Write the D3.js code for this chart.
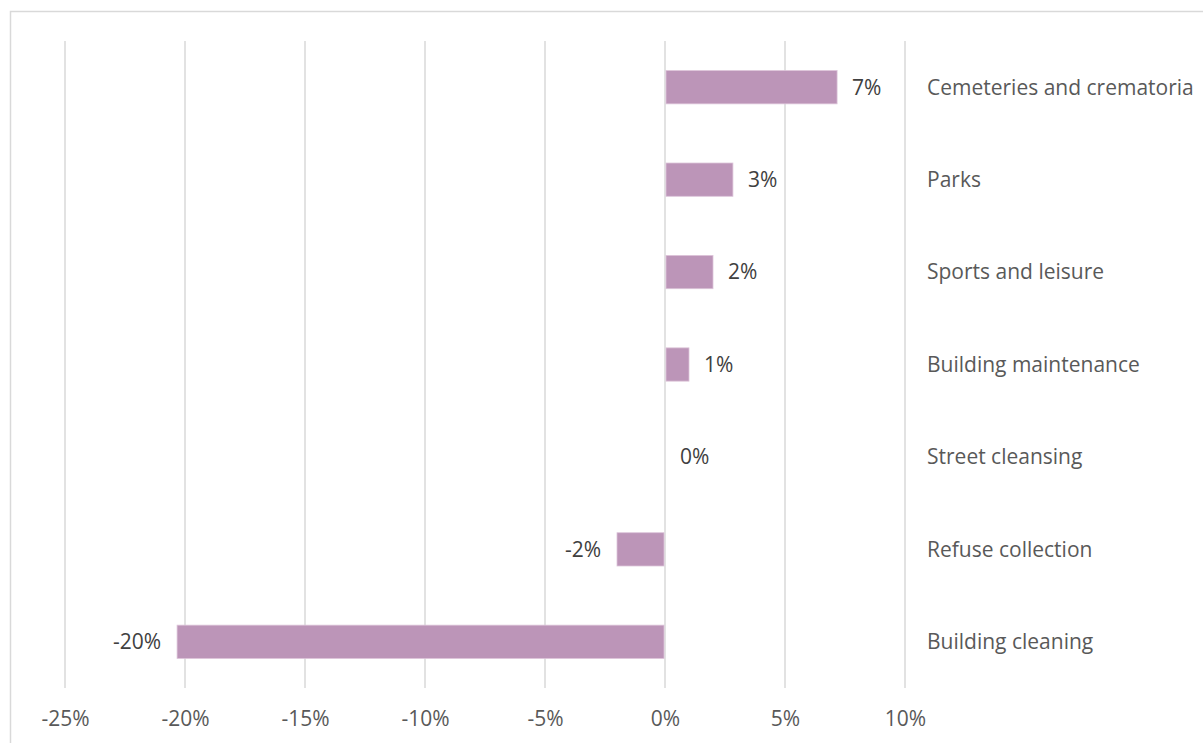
<!DOCTYPE html>
<html>
<head>
<meta charset="utf-8">
<script src="https://cdn.jsdelivr.net/npm/d3@7"></script>
<style>
  html, body { margin: 0; padding: 0; background: #fff; overflow: hidden; }
  svg { display: block; font-family: "Open Sans", sans-serif; }
</style>
</head>
<body>
<svg id="chart" width="1203" height="743"></svg>
<script>
// Change in spend by service, percent
const categories = [
  "Cemeteries and crematoria",
  "Parks",
  "Sports and leisure",
  "Building maintenance",
  "Street cleansing",
  "Refuse collection",
  "Building cleaning"
];
const values = [7.17, 2.83, 2.0, 1.0, 0.0, -2.0, -20.33];
const tickValues = [-25, -20, -15, -10, -5, 0, 5, 10];

const FONT = 21;
const svg = d3.select("#chart");

// frame
svg.append("rect")
  .attr("x", 10.5).attr("y", 11.5)
  .attr("width", 1300).attr("height", 800)
  .attr("fill", "none").attr("stroke", "#d9d9d9").attr("stroke-width", 1.5);

const x = d3.scaleLinear().domain([-25, 10]).range([65, 905]);
const y = d3.scaleBand().domain(categories).range([41, 688]).paddingInner(0.64).paddingOuter(0.32);

// percent label with a plain hyphen for negatives
const pct = d => Math.round(d).toString() + "%";

// vertical gridlines
svg.append("g").selectAll("line")
  .data(tickValues)
  .join("line")
  .attr("x1", d => x(d)).attr("x2", d => x(d))
  .attr("y1", 41).attr("y2", 688)
  .attr("stroke", "#d9d9d9").attr("stroke-width", 1.5);

// x axis labels
const axis = d3.axisBottom(x).tickValues(tickValues).tickFormat(pct).tickSize(0).tickPadding(0);
const ax = svg.append("g").attr("transform", "translate(0,711)").call(axis);
ax.select(".domain").remove();
ax.selectAll("text")
  .attr("font-family", "'Open Sans', sans-serif")
  .attr("font-size", FONT)
  .attr("fill", "#595959");

const data = categories.map((c, i) => ({ c, v: values[i] }));

// bars
svg.append("g").selectAll("rect")
  .data(data)
  .join("rect")
  .attr("x", d => Math.min(x(0), x(d.v)) + (d.v > 0 ? 1 : 0))
  .attr("width", d => Math.max(0, Math.abs(x(d.v) - x(0)) - (d.v !== 0 ? 1 : 0)))
  .attr("y", d => y(d.c))
  .attr("height", y.bandwidth())
  .attr("fill", "#bc95b8")
  .attr("stroke", "#dcc4d9").attr("stroke-width", 0.8);

// value labels
svg.append("g").selectAll("text")
  .data(data)
  .join("text")
  .attr("x", d => d.v < 0 ? x(d.v) - 16 : x(d.v) + 15)
  .attr("y", d => y(d.c) + y.bandwidth() / 2)
  .attr("dy", "0.35em")
  .attr("text-anchor", d => d.v < 0 ? "end" : "start")
  .attr("font-size", FONT)
  .attr("fill", "#404040")
  .text(d => pct(d.v));

// category labels
svg.append("g").selectAll("text")
  .data(data)
  .join("text")
  .attr("x", 927)
  .attr("y", d => y(d.c) + y.bandwidth() / 2)
  .attr("dy", "0.35em")
  .attr("font-size", FONT)
  .attr("fill", "#595959")
  .text(d => d.c);
</script>
</body>
</html>
